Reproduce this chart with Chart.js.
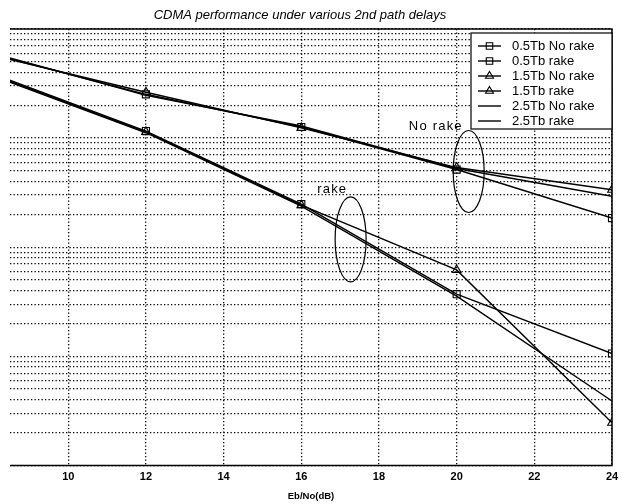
<!DOCTYPE html>
<html>
<head>
<meta charset="utf-8">
<script src="https://cdn.jsdelivr.net/npm/chart.js@4.4.0/dist/chart.umd.min.js"></script>
<style>
  html, body { margin:0; padding:0; background:#fff; }
  #wrap { width:627px; height:504px; }
</style>
</head>
<body>
<div id="wrap"><canvas id="berChart" width="627" height="504"></canvas></div>
<script>
// ── DATA ─────────────────────────────────────────────────
const ebno       = [8, 12, 16, 20, 24];
const xTicks     = [10, 12, 14, 16, 18, 20, 22, 24];
const yDecades   = [1e-5, 1e-4, 1e-3, 1e-2];
const yMantissas = [1, 2, 3, 4, 5, 6, 7, 8, 9];

const ber05NoRake = [0.0593, 0.0252, 0.01265, 0.00515, 0.00185];
const ber05Rake   = [0.0395, 0.0116, 0.00248, 0.000371, 0.000106];
const ber15NoRake = [0.0581, 0.0263, 0.0124, 0.00537, 0.00336];
const ber15Rake   = [0.0387, 0.0114, 0.00243, 0.000619, 0.0000246];
const ber25NoRake = [0.0606, 0.0247, 0.0129, 0.00526, 0.00293];
const ber25Rake   = [0.0379, 0.0112, 0.00238, 0.000356, 0.0000389];

const seriesLabels = ['0.5Tb No rake', '0.5Tb rake', '1.5Tb No rake', '1.5Tb rake', '2.5Tb No rake', '2.5Tb rake'];

// group notes, in data coordinates
const notes = [
  { text: 'No rake', x: 18.77, y: 0.0129 },
  { text: 'rake',    x: 16.41, y: 0.0034 }
];
const rings = [
  { x: 20.31, y: 0.00494 },
  { x: 17.27, y: 0.00118 }
];

const FONT = 'Arial, "Liberation Sans", sans-serif';

// ── DATASETS ─────────────────────────────────────────────
const toPts = arr => arr.map((v, i) => ({ x: ebno[i], y: v }));
const marker = { sq: { pointStyle: 'rect', pointRadius: 5 }, tri: { pointStyle: 'triangle', pointRadius: 5 }, none: { pointStyle: false, pointRadius: 0 } };

const datasets = [
  [ber05NoRake, marker.sq],
  [ber05Rake,   marker.sq],
  [ber15NoRake, marker.tri],
  [ber15Rake,   marker.tri],
  [ber25NoRake, marker.none],
  [ber25Rake,   marker.none]
].map(([arr, m], i) => ({
  label: seriesLabels[i],
  data: toPts(arr),
  borderColor: '#000',
  borderWidth: 1.4,
  tension: 0,
  pointStyle: m.pointStyle,
  pointRadius: m.pointRadius,
  pointBorderColor: '#000',
  pointBackgroundColor: 'rgba(0,0,0,0)',
  pointBorderWidth: 1.1
}));

// ── EXTRAS: frame, title, legend, notes ──────────────────
const extras = {
  id: 'extras',
  afterDatasetsDraw(chart) {
    const { ctx, chartArea: a, scales } = chart;
    ctx.save();

    // frame (top, right, bottom)
    ctx.strokeStyle = '#000';
    ctx.lineWidth = 1.5;
    ctx.beginPath();
    ctx.moveTo(a.left, a.top); ctx.lineTo(a.right, a.top);
    ctx.lineTo(a.right, a.bottom); ctx.lineTo(a.left, a.bottom);
    ctx.stroke();

    // ellipses round each group
    ctx.lineWidth = 1.2;
    const radii = [[15.5, 41], [15.5, 42.5]];
    rings.forEach((r, i) => {
      ctx.beginPath();
      ctx.ellipse(scales.x.getPixelForValue(r.x), scales.y.getPixelForValue(r.y), radii[i][0], radii[i][1], 0, 0, Math.PI * 2);
      ctx.stroke();
    });

    // group notes
    ctx.fillStyle = '#000';
    ctx.font = '13px ' + FONT;
    ctx.letterSpacing = '1.2px';
    ctx.textAlign = 'left';
    ctx.textBaseline = 'middle';
    notes.forEach(n => ctx.fillText(n.text, scales.x.getPixelForValue(n.x), scales.y.getPixelForValue(n.y)));
    ctx.letterSpacing = '0px';

    // title
    ctx.font = 'italic 13px ' + FONT;
    ctx.textAlign = 'center';
    ctx.fillText('CDMA performance under various 2nd path delays', 300, 15);

    // legend box
    const lx = 471, ly = 33, lw = a.right - 471, lh = 96;
    ctx.fillStyle = '#fff';
    ctx.fillRect(lx, ly, lw, lh);
    ctx.strokeStyle = '#000';
    ctx.lineWidth = 1.2;
    ctx.strokeRect(lx, ly, lw, lh);
    ctx.font = '13px ' + FONT;
    ctx.textAlign = 'left';
    chart.data.datasets.forEach((ds, i) => {
      const y = ly + 13 + i * 15;
      ctx.strokeStyle = '#000';
      ctx.lineWidth = 1.4;
      ctx.beginPath(); ctx.moveTo(478, y); ctx.lineTo(501, y); ctx.stroke();
      if (ds.pointStyle) {
        ctx.fillStyle = 'rgba(0,0,0,0)';
        ctx.lineWidth = 1.1;
        Chart.helpers.drawPoint(ctx, { pointStyle: ds.pointStyle, radius: 4.6, borderWidth: 1.1, rotation: 0 }, 489.5, y);
      }
      ctx.fillStyle = '#000';
      ctx.fillText(ds.label, 512, y + 0.5);
    });
    ctx.restore();
  }
};

// ── CHART ────────────────────────────────────────────────
const gridOpts = { color: '#000', lineWidth: 1.3, drawTicks: false };
const dotted   = { display: false, dash: [1.3, 2.2] };

new Chart(document.getElementById('berChart').getContext('2d'), {
  type: 'line',
  data: { datasets },
  options: {
    responsive: false,
    animation: false,
    layout: { padding: { top: 29, right: 15, left: 0, bottom: 0 } },
    plugins: {
      legend: { display: false },
      title: { display: false },
      tooltip: { enabled: false }
    },
    scales: {
      x: {
        type: 'linear',
        min: 8.5,
        max: 24,
        afterBuildTicks: s => { s.ticks = xTicks.map(v => ({ value: v })); },
        grid: gridOpts,
        border: dotted,
        ticks: { color: '#000', font: { size: 11, weight: 'bold', family: FONT }, padding: 5, autoSkip: false, maxRotation: 0 },
        title: { display: true, text: 'Eb/No(dB)', color: '#000', font: { size: 9.5, weight: 'bold', family: FONT }, padding: { top: 2.5, bottom: 1.5 } }
      },
      y: {
        type: 'logarithmic',
        min: 1e-5,
        max: 1e-1,
        afterBuildTicks: s => {
          const t = [];
          yDecades.forEach(d => yMantissas.forEach(m => t.push({ value: d * m })));
          t.push({ value: 1e-1 });
          s.ticks = t;
        },
        afterFit: s => { s.width = 10; },
        grid: gridOpts,
        border: dotted,
        ticks: { display: false, autoSkip: false }
      }
    }
  },
  plugins: [extras]
});
</script>
</body>
</html>
